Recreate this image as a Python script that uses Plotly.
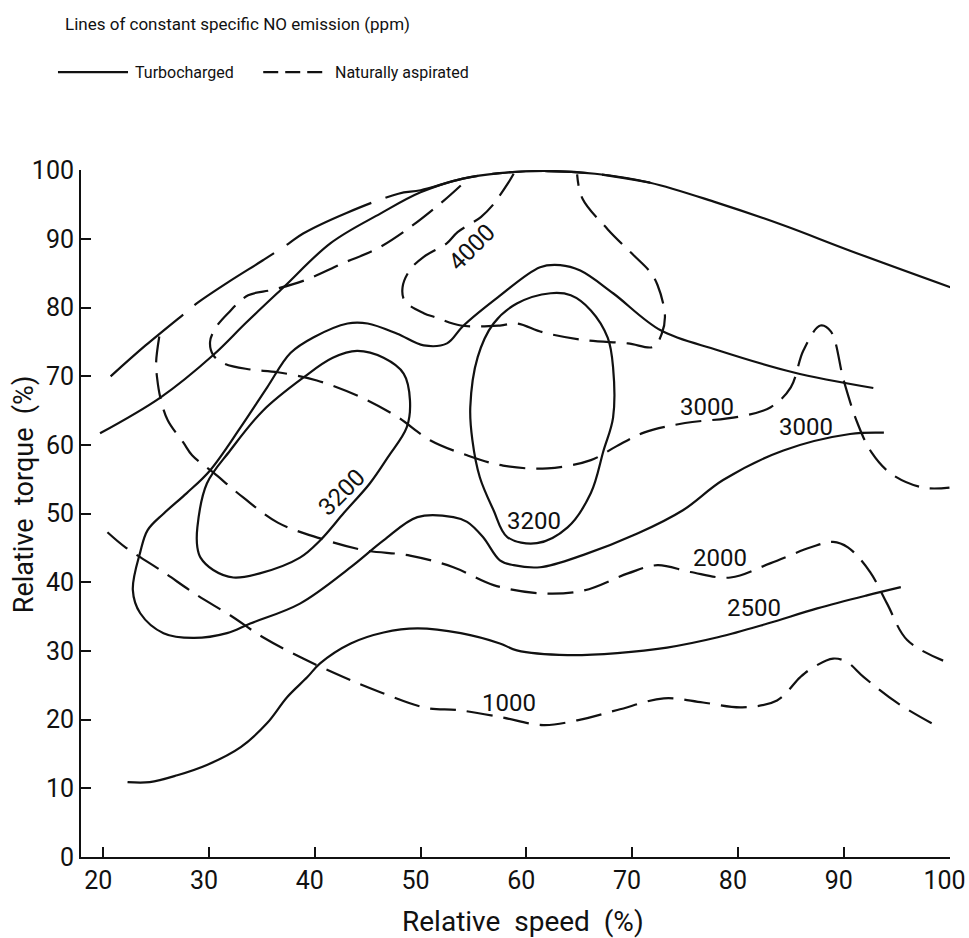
import plotly.graph_objects as go

# ---------------- data ----------------
# Turbocharged (solid)
tc_full_x = [19.7, 25.4, 30.4, 33.5, 37.0, 41.5, 46.2, 50.0, 54.0, 57.5, 62.0, 66.5, 71.7, 78.0, 84.3, 90.6, 100.4]
tc_full_y = [61.7, 66.9, 73.1, 77.8, 82.9, 89.4, 93.7, 96.8, 98.8, 99.6, 99.9, 99.5, 98.2, 95.3, 92.0, 88.3, 82.8]

tc_3000_x = [92.8, 85.2, 78.1, 72.7, 68.2, 65.1, 63.2, 61.3, 57.3, 54.0, 52.5, 50.3, 47.8, 45.0, 43.1, 39.9, 37.7,
             35.5, 33.0, 30.1, 27.9, 25.7, 24.2, 23.5, 22.8, 23.5, 25.7, 28.5, 31.7, 33.9, 38.6, 43.4, 46.5, 49.7,
             53.1, 54.4, 55.9, 57.5, 58.8, 61.3, 65.4, 70.5, 74.8, 78.6, 84.3, 90.6, 93.8]
tc_3000_y = [68.3, 70.6, 73.8, 76.7, 82.1, 85.4, 86.2, 85.9, 81.5, 77.3, 74.8, 74.5, 76.2, 77.7, 77.7, 75.7, 73.4,
             68.4, 62.6, 56.3, 53.0, 50.0, 47.6, 44.4, 38.9, 35.5, 32.6, 31.9, 32.6, 34.0, 36.9, 42.2, 46.1, 49.5,
             49.5, 48.8, 46.6, 43.2, 42.5, 42.2, 44.0, 47.1, 50.5, 54.9, 59.2, 61.6, 61.8]

tc_3200a_x = [49.0, 48.7, 46.9, 45.2, 42.8, 40.5, 38.6, 34.8, 32.3, 30.4, 29.2, 28.9, 28.9, 29.8, 32.0, 35.1, 38.9,
              41.7, 44.0, 46.5, 48.4, 49.0]
tc_3200a_y = [66.5, 62.6, 58.2, 54.4, 50.2, 46.1, 43.6, 41.3, 40.7, 41.8, 43.6, 45.1, 48.0, 54.4, 59.2, 65.0, 69.8,
              72.7, 73.7, 72.7, 70.4, 66.5]

tc_3200b_x = [54.7, 55.4, 56.9, 59.1, 62.3, 64.2, 66.1, 67.7, 68.2, 68.2, 67.3, 66.1, 63.9, 61.0, 58.2, 56.9, 55.6,
              54.9, 54.7]
tc_3200b_y = [65.5, 72.8, 77.7, 80.6, 82.1, 81.8, 79.6, 75.6, 71.3, 64.0, 59.2, 53.0, 48.0, 45.7, 46.6, 50.5, 55.3,
              60.7, 65.5]

tc_2500_x = [22.3, 24.4, 27.0, 29.8, 33.0, 35.5, 37.4, 39.3, 40.5, 43.4, 46.5, 49.7, 53.8, 57.5, 59.1, 63.9, 68.6,
             73.3, 78.1, 82.8, 87.5, 92.2, 95.4]
tc_2500_y = [10.9, 10.9, 11.9, 13.4, 16.0, 19.5, 23.3, 26.2, 28.2, 31.1, 32.7, 33.3, 32.6, 31.1, 30.1, 29.4, 29.7,
             30.5, 32.0, 34.0, 36.2, 38.1, 39.3]

# Naturally aspirated (dashed)
na_full_x = [20.7, 24.0, 27.8, 29.0, 32.0, 35.1, 37.5, 38.9, 43.0, 47.9, 50.0, 54.0, 57.5, 62.0, 66.5, 71.7]
na_full_y = [70.0, 74.5, 79.3, 80.8, 83.9, 86.9, 89.3, 90.8, 93.8, 96.6, 97.1, 98.8, 99.6, 99.9, 99.5, 98.2]

na_4000_x = [58.8, 58.3, 56.8, 55.7, 53.5, 52.5, 50.3, 49.0, 48.3, 48.5, 50.3, 51.4, 53.8, 57.5, 59.1, 61.6, 65.4,
             69.6, 72.0, 72.8, 73.1, 72.4, 71.7, 70.1, 67.7, 65.3, 64.8]
na_4000_y = [99.5, 98.2, 94.9, 93.2, 91.0, 89.4, 87.4, 85.5, 83.0, 81.0, 79.2, 78.6, 77.4, 77.4, 77.7, 76.4, 75.3,
             74.8, 74.3, 76.2, 78.9, 83.3, 85.2, 87.7, 91.4, 95.9, 99.4]

na_3000_x = [53.8, 52.2, 49.0, 45.9, 42.7, 38.9, 36.0, 33.7, 31.8, 30.6, 30.1, 30.4, 31.5, 33.9, 36.5, 40.2, 44.3,
             47.8, 50.9, 54.4, 57.8, 62.0, 66.1, 68.5, 71.1, 75.0, 80.0, 83.1, 85.0, 86.2, 87.8, 88.8, 90.0, 91.3,
             92.6, 94.5, 97.5, 100.0]
na_3000_y = [97.8, 95.6, 91.7, 88.6, 86.5, 83.9, 82.6, 81.8, 79.2, 77.0, 75.0, 73.1, 71.8, 71.0, 70.6, 69.4, 67.0,
             64.1, 60.7, 58.5, 57.0, 56.6, 57.8, 59.8, 61.8, 63.2, 64.1, 65.5, 68.4, 73.8, 77.4, 76.5, 69.4, 63.2,
             59.0, 55.8, 53.8, 53.8]

na_2000_x = [25.3, 25.0, 25.1, 25.4, 26.1, 27.6, 28.4, 30.4, 33.2, 36.5, 40.5, 44.6, 49.0, 53.1, 56.9, 61.3, 65.4,
             69.6, 72.4, 75.5, 79.3, 83.1, 86.9, 89.0, 90.4, 92.5, 94.1, 96.0, 99.4]
na_2000_y = [75.8, 72.0, 69.7, 66.9, 63.6, 60.3, 58.5, 56.0, 52.4, 48.7, 46.4, 44.7, 43.9, 42.2, 39.6, 38.4, 38.8,
             41.3, 42.5, 41.5, 40.7, 42.8, 45.1, 45.9, 45.1, 41.5, 36.9, 31.6, 28.6]

na_1000_x = [20.4, 22.1, 25.4, 28.9, 32.0, 35.1, 38.9, 42.7, 46.2, 50.6, 53.5, 57.5, 61.6, 64.8, 68.6, 73.0, 76.7,
             80.4, 83.7, 85.9, 87.0, 89.0, 90.3, 91.9, 95.1, 99.0]
na_1000_y = [47.3, 45.1, 41.8, 38.1, 35.2, 32.0, 28.9, 26.2, 24.0, 21.7, 21.4, 20.4, 19.2, 19.9, 21.4, 23.1, 22.5,
             21.8, 22.8, 26.2, 27.5, 28.9, 28.4, 26.2, 22.4, 18.9]

# contour labels: text, x, y, angle
label_text = ["4000", "3200", "3200", "3000", "3000", "2000", "2500", "1000"]
label_x = [54.9, 42.6, 60.7, 77.1, 86.4, 78.3, 81.5, 58.4]
label_y = [88.8, 53.1, 48.9, 65.6, 62.6, 43.6, 36.3, 22.4]
label_angle = [-45, -45, 0, 0, 0, 0, 0, 0]

x_ticks = [20, 30, 40, 50, 60, 70, 80, 90, 100]
y_ticks = [0, 10, 20, 30, 40, 50, 60, 70, 80, 90, 100]

# ---------------- figure ----------------
FONT = "Roboto, 'DejaVu Sans', sans-serif"
INK = "#111111"
DASH = "26px,11px"
NB = "\u00a0"

fig = go.Figure()

solid_curves = [(tc_full_x, tc_full_y), (tc_3000_x, tc_3000_y), (tc_3200a_x, tc_3200a_y),
                (tc_3200b_x, tc_3200b_y), (tc_2500_x, tc_2500_y)]
for xs, ys in solid_curves:
    fig.add_trace(go.Scatter(x=xs, y=ys, mode="lines", showlegend=False, hoverinfo="skip",
                             line=dict(color=INK, width=2.2, shape="spline", smoothing=1.0)))

fig.add_trace(go.Scatter(x=na_full_x, y=na_full_y, mode="lines", showlegend=False, hoverinfo="skip",
                         line=dict(color=INK, width=2.2, shape="spline", smoothing=1.0, dash="95px,15px")))
for xs, ys in [(na_4000_x, na_4000_y), (na_3000_x, na_3000_y), (na_2000_x, na_2000_y), (na_1000_x, na_1000_y)]:
    fig.add_trace(go.Scatter(x=xs, y=ys, mode="lines", showlegend=False, hoverinfo="skip",
                             line=dict(color=INK, width=2.2, shape="spline", smoothing=1.0, dash=DASH)))

annotations = []
for t, lx, ly, ang in zip(label_text, label_x, label_y, label_angle):
    annotations.append(dict(x=lx, y=ly, xref="x", yref="y", text=t, showarrow=False, textangle=ang,
                            font=dict(family=FONT, size=24, color=INK)))

# heading and legend
annotations += [
    dict(x=-0.0207, y=1.2125, xref="paper", yref="paper", xanchor="left", yanchor="middle",
         text="Lines of constant specific NO emission (ppm)", showarrow=False,
         font=dict(family=FONT, size=17, color=INK)),
    dict(x=0.0599, y=1.1426, xref="paper", yref="paper", xanchor="left", yanchor="middle",
         text="Turbocharged", showarrow=False, font=dict(family=FONT, size=16, color=INK)),
    dict(x=0.2903, y=1.1426, xref="paper", yref="paper", xanchor="left", yanchor="middle",
         text="Naturally aspirated", showarrow=False, font=dict(family=FONT, size=16, color=INK)),
    dict(x=0.509, y=-0.0932, xref="paper", yref="paper", xanchor="center", yanchor="middle",
         text="Relative" + NB * 2 + "speed" + NB * 2 + "(%)", showarrow=False,
         font=dict(family=FONT, size=28, color=INK)),
    dict(x=-0.0657, y=0.528, xref="paper", yref="paper", xanchor="center", yanchor="middle",
         text="Relative" + NB * 2 + "torque" + NB * 2 + "(%)", showarrow=False, textangle=-90,
         font=dict(family=FONT, size=27, color=INK)),
]

shapes = [
    dict(type="line", xref="paper", yref="paper", x0=-0.0265, x1=0.0541, y0=1.1426, y1=1.1426,
         line=dict(color=INK, width=2.2)),
    dict(type="line", xref="paper", yref="paper", x0=0.2097, x1=0.2811, y0=1.1426, y1=1.1426,
         line=dict(color=INK, width=2.2, dash="15px,7px")),
]

axis_common = dict(showgrid=False, zeroline=False, showline=True, linecolor=INK, linewidth=2,
                   ticks="inside", ticklen=10, tickwidth=2, tickcolor=INK, ticklabeloverflow="allow",
                   automargin=False, tickfont=dict(family=FONT, size=25, color=INK))

fig.update_layout(
    width=969, height=938,
    margin=dict(l=81, r=19, t=170, b=81, autoexpand=False),
    paper_bgcolor="white", plot_bgcolor="white",
    xaxis=dict(range=[17.9, 100.05], tickvals=x_ticks, ticktext=[str(v) for v in x_ticks],
               ticklabelshift=-5, **axis_common),
    yaxis=dict(range=[0, 100.05], tickvals=y_ticks, ticktext=[str(v) for v in y_ticks], **axis_common),
    annotations=annotations, shapes=shapes, showlegend=False,
)

fig.write_html("out.html")
